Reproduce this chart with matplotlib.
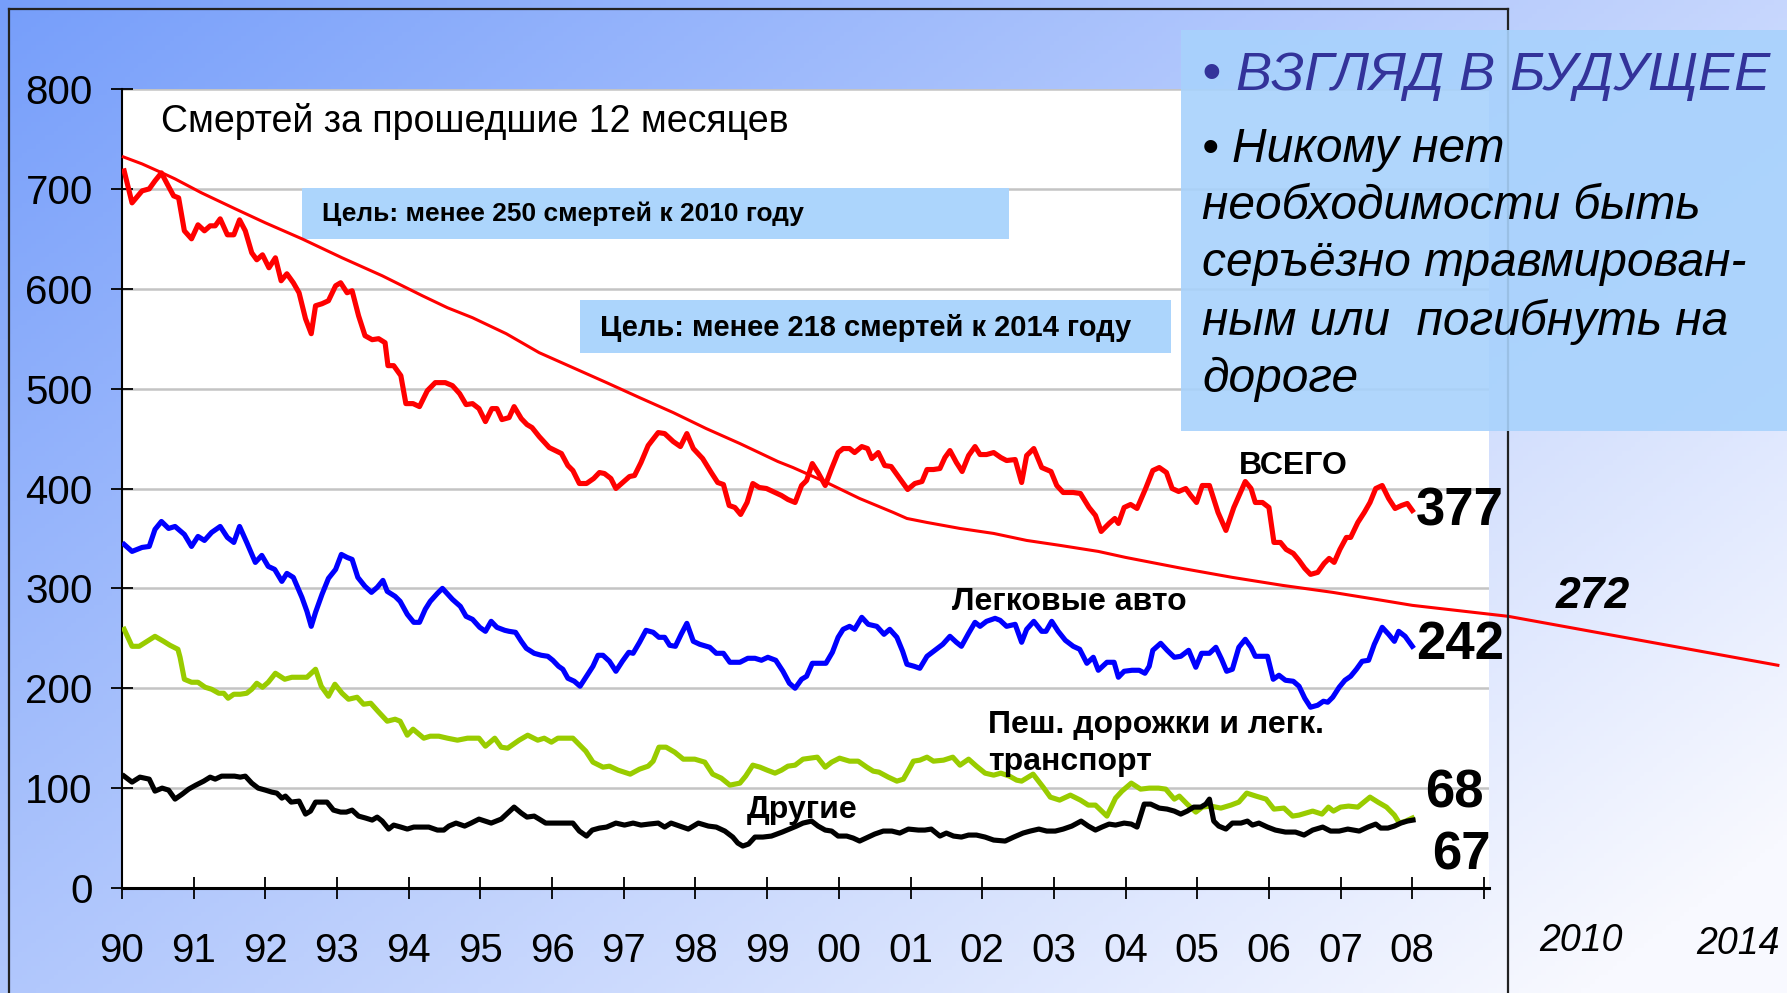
import numpy as np
import matplotlib.pyplot as plt
from matplotlib.patches import Rectangle
from matplotlib.lines import Line2D

plt.rcParams['font.family'] = ['Liberation Sans', 'DejaVu Sans']

# --- data (deaths over the past 12 months) ---
total_years = [1990.03, 1990.14, 1990.28, 1990.38, 1990.46, 1990.55, 1990.63, 1990.72, 1990.79, 1990.87,
               1990.97, 1991.06, 1991.15, 1991.23, 1991.30, 1991.37, 1991.47, 1991.56, 1991.64, 1991.72,
               1991.81, 1991.88, 1991.96, 1992.05, 1992.14, 1992.22, 1992.30, 1992.39, 1992.47, 1992.56,
               1992.64, 1992.70, 1992.79, 1992.88, 1992.98, 1993.05, 1993.14, 1993.21, 1993.30, 1993.39,
               1993.49, 1993.58, 1993.67, 1993.71, 1993.79, 1993.89, 1993.96, 1994.06, 1994.15, 1994.26,
               1994.37, 1994.51, 1994.61, 1994.71, 1994.80, 1994.89, 1994.98, 1995.07, 1995.16, 1995.23,
               1995.30, 1995.40, 1995.47, 1995.57, 1995.65, 1995.72, 1995.82, 1995.96, 1996.13, 1996.22,
               1996.29, 1996.38, 1996.48, 1996.58, 1996.66, 1996.73, 1996.82, 1996.89, 1997.00, 1997.08,
               1997.15, 1997.24, 1997.34, 1997.48, 1997.57, 1997.69, 1997.79, 1997.88, 1997.97, 1998.10,
               1998.22, 1998.31, 1998.39, 1998.47, 1998.55, 1998.63, 1998.72, 1998.80, 1998.89, 1998.99,
               1999.11, 1999.20, 1999.29, 1999.39, 1999.48, 1999.55, 1999.63, 1999.71, 1999.81, 1999.90,
               1999.99, 2000.06, 2000.15, 2000.22, 2000.32, 2000.40, 2000.46, 2000.55, 2000.64, 2000.73,
               2000.85, 2000.96, 2001.06, 2001.16, 2001.23, 2001.32, 2001.41, 2001.48, 2001.55, 2001.64,
               2001.72, 2001.81, 2001.90, 2001.97, 2002.06, 2002.16, 2002.26, 2002.34, 2002.46, 2002.55,
               2002.62, 2002.72, 2002.83, 2002.96, 2003.04, 2003.13, 2003.27, 2003.37, 2003.49, 2003.58,
               2003.66, 2003.77, 2003.85, 2003.90, 2003.98, 2004.07, 2004.16, 2004.28, 2004.38, 2004.47,
               2004.57, 2004.65, 2004.74, 2004.84, 2004.91, 2004.99, 2005.07, 2005.17, 2005.29, 2005.40,
               2005.51, 2005.67, 2005.75, 2005.81, 2005.91, 2006.00, 2006.07, 2006.16, 2006.24, 2006.34,
               2006.42, 2006.50, 2006.58, 2006.68, 2006.77, 2006.84, 2006.91, 2006.99, 2007.08, 2007.14,
               2007.24, 2007.33, 2007.41, 2007.49, 2007.58, 2007.67, 2007.76, 2007.85, 2007.93, 2008.00]
total_vals = [718, 686, 698, 700, 708, 716, 705, 693, 691, 658,
              650, 664, 658, 663, 663, 670, 654, 654, 669, 658,
              636, 629, 634, 621, 631, 608, 615, 606, 596, 570,
              555, 583, 585, 588, 603, 606, 596, 598, 573, 553,
              549, 550, 546, 523, 523, 513, 485, 485, 482, 498,
              506, 506, 503, 495, 484, 485, 480, 467, 480, 480,
              469, 471, 482, 470, 464, 461, 452, 441, 435, 423,
              418, 405, 405, 410, 416, 415, 410, 400, 407, 412,
              413, 426, 443, 456, 455, 447, 442, 455, 440, 430,
              416, 406, 404, 383, 381, 374, 386, 405, 401, 400,
              396, 393, 389, 386, 403, 408, 425, 416, 403, 420,
              436, 440, 440, 436, 442, 440, 430, 436, 423, 422,
              410, 399, 405, 407, 419, 419, 420, 431, 438, 426,
              417, 433, 442, 434, 434, 436, 431, 428, 429, 406,
              433, 440, 421, 417, 403, 396, 396, 395, 381, 373,
              357, 365, 370, 365, 381, 384, 380, 400, 418, 421,
              416, 400, 397, 400, 393, 386, 403, 403, 376, 358,
              381, 407, 400, 386, 386, 381, 346, 346, 339, 335,
              328, 320, 314, 316, 325, 330, 326, 339, 351, 351,
              366, 376, 386, 400, 403, 390, 380, 383, 385, 378]

target_years = [1990.02, 1990.28, 1990.56, 1990.74, 1991.11, 1991.58, 1992.00, 1992.51, 1993.07, 1993.63,
                1994.19, 1994.54, 1994.89, 1995.36, 1995.82, 1996.29, 1996.76, 1997.22, 1997.69, 1998.15,
                1998.62, 1999.15, 1999.36, 1999.83, 2000.29, 2000.76, 2000.95, 2001.23, 2001.69, 2002.16,
                2002.62, 2003.09, 2003.62, 2004.00, 2004.79, 2005.49, 2006.19, 2006.89, 2007.58, 2008.00,
                2009.34, 2013.10]
target_vals = [732, 725, 716, 710, 696, 680, 666, 650, 631, 613,
               593, 581, 571, 555, 536, 521, 506, 491, 476, 460,
               445, 427, 421, 406, 390, 376, 370, 366, 360, 355,
               348, 343, 337, 331, 320, 311, 303, 296, 288, 283,
               272, 223]

cars_years = [1990.03, 1990.14, 1990.28, 1990.38, 1990.46, 1990.55, 1990.65, 1990.74, 1990.87, 1990.97,
              1991.06, 1991.15, 1991.25, 1991.37, 1991.47, 1991.56, 1991.64, 1991.74, 1991.86, 1991.95,
              1992.04, 1992.13, 1992.23, 1992.30, 1992.39, 1992.51, 1992.58, 1992.64, 1992.70, 1992.79,
              1992.88, 1992.98, 1993.06, 1993.14, 1993.21, 1993.29, 1993.39, 1993.48, 1993.56, 1993.64,
              1993.70, 1993.81, 1993.88, 1993.98, 1994.07, 1994.15, 1994.23, 1994.30, 1994.40, 1994.47,
              1994.61, 1994.72, 1994.80, 1994.89, 1994.99, 1995.07, 1995.15, 1995.23, 1995.34, 1995.40,
              1995.49, 1995.57, 1995.64, 1995.75, 1995.85, 1995.94, 1996.01, 1996.09, 1996.15, 1996.22,
              1996.31, 1996.39, 1996.48, 1996.57, 1996.64, 1996.71, 1996.80, 1996.89, 1996.98, 1997.07,
              1997.13, 1997.22, 1997.31, 1997.41, 1997.49, 1997.57, 1997.64, 1997.72, 1997.80, 1997.88,
              1997.97, 1998.06, 1998.20, 1998.29, 1998.39, 1998.48, 1998.62, 1998.73, 1998.83, 1998.92,
              1999.01, 1999.12, 1999.22, 1999.31, 1999.39, 1999.48, 1999.55, 1999.63, 1999.74, 1999.82,
              1999.91, 1999.99, 2000.06, 2000.15, 2000.22, 2000.32, 2000.41, 2000.53, 2000.63, 2000.71,
              2000.81, 2000.89, 2000.95, 2001.05, 2001.13, 2001.23, 2001.34, 2001.45, 2001.55, 2001.64,
              2001.71, 2001.81, 2001.90, 2001.97, 2002.06, 2002.18, 2002.25, 2002.34, 2002.46, 2002.55,
              2002.62, 2002.72, 2002.83, 2002.89, 2002.97, 2003.06, 2003.16, 2003.27, 2003.36, 2003.46,
              2003.55, 2003.62, 2003.74, 2003.84, 2003.90, 2003.98, 2004.09, 2004.19, 2004.27, 2004.33,
              2004.38, 2004.49, 2004.58, 2004.68, 2004.77, 2004.88, 2004.98, 2005.06, 2005.17, 2005.26,
              2005.34, 2005.41, 2005.49, 2005.58, 2005.67, 2005.75, 2005.81, 2005.91, 2005.98, 2006.06,
              2006.14, 2006.23, 2006.34, 2006.42, 2006.50, 2006.58, 2006.68, 2006.76, 2006.82, 2006.89,
              2006.98, 2007.06, 2007.14, 2007.22, 2007.30, 2007.39, 2007.47, 2007.58, 2007.67, 2007.75,
              2007.81, 2007.90, 2008.00]
cars_vals = [344, 337, 341, 342, 359, 367, 360, 362, 354, 342,
             352, 348, 356, 362, 351, 346, 362, 346, 326, 333,
             322, 319, 307, 315, 311, 291, 277, 262, 276, 294,
             310, 319, 334, 331, 329, 311, 302, 296, 301, 308,
             297, 292, 287, 274, 266, 266, 279, 287, 295, 300,
             289, 282, 272, 269, 261, 257, 267, 261, 258, 257,
             256, 247, 240, 235, 233, 232, 228, 222, 219, 210,
             207, 202, 212, 222, 233, 233, 227, 217, 227, 236,
             235, 246, 258, 256, 251, 251, 243, 242, 254, 265,
             247, 244, 241, 235, 235, 226, 226, 230, 230, 228,
             231, 228, 217, 205, 200, 209, 212, 225, 225, 225,
             236, 251, 259, 262, 259, 271, 264, 262, 254, 259,
             251, 237, 224, 222, 220, 232, 238, 244, 252, 246,
             242, 255, 266, 262, 267, 270, 268, 262, 264, 246,
             259, 267, 257, 257, 267, 257, 248, 242, 239, 225,
             231, 218, 226, 226, 211, 217, 218, 218, 215, 222,
             238, 245, 238, 231, 232, 238, 221, 235, 235, 241,
             229, 217, 219, 241, 249, 241, 232, 232, 232, 209,
             213, 208, 207, 202, 190, 181, 183, 187, 186, 191,
             201, 208, 212, 219, 227, 228, 244, 261, 254, 247,
             257, 252, 242]

peds_years = [1990.03, 1990.14, 1990.24, 1990.35, 1990.46, 1990.58, 1990.67, 1990.78, 1990.81, 1990.87,
              1990.97, 1991.06, 1991.16, 1991.25, 1991.35, 1991.42, 1991.48, 1991.56, 1991.65, 1991.74,
              1991.81, 1991.88, 1991.96, 1992.04, 1992.14, 1992.27, 1992.37, 1992.49, 1992.58, 1992.70,
              1992.78, 1992.88, 1992.97, 1993.07, 1993.16, 1993.28, 1993.37, 1993.47, 1993.57, 1993.70,
              1993.81, 1993.88, 1993.98, 1994.06, 1994.21, 1994.30, 1994.42, 1994.54, 1994.68, 1994.82,
              1994.98, 1995.07, 1995.20, 1995.29, 1995.38, 1995.54, 1995.66, 1995.80, 1995.89, 1995.99,
              1996.08, 1996.29, 1996.47, 1996.57, 1996.71, 1996.80, 1996.92, 1997.09, 1997.22, 1997.34,
              1997.41, 1997.49, 1997.59, 1997.71, 1997.83, 1997.99, 1998.13, 1998.24, 1998.36, 1998.48,
              1998.62, 1998.70, 1998.80, 1998.90, 1999.00, 1999.11, 1999.20, 1999.29, 1999.39, 1999.50,
              1999.60, 1999.70, 1999.81, 1999.90, 2000.01, 2000.15, 2000.27, 2000.39, 2000.48, 2000.56,
              2000.69, 2000.81, 2000.90, 2000.98, 2001.04, 2001.13, 2001.23, 2001.32, 2001.46, 2001.59,
              2001.69, 2001.81, 2001.92, 2002.04, 2002.16, 2002.26, 2002.38, 2002.48, 2002.55, 2002.71,
              2002.85, 2002.95, 2003.08, 2003.23, 2003.37, 2003.48, 2003.58, 2003.74, 2003.86, 2003.95,
              2004.08, 2004.21, 2004.33, 2004.46, 2004.56, 2004.68, 2004.75, 2004.86, 2004.98, 2005.07,
              2005.19, 2005.33, 2005.47, 2005.58, 2005.69, 2005.82, 2005.96, 2006.07, 2006.21, 2006.33,
              2006.42, 2006.61, 2006.74, 2006.83, 2006.90, 2007.00, 2007.11, 2007.24, 2007.41, 2007.52,
              2007.64, 2007.75, 2007.82, 2007.91, 2008.00]
peds_vals = [259, 242, 242, 247, 252, 247, 243, 239, 231, 209,
             206, 206, 201, 199, 195, 195, 190, 194, 194, 195,
             199, 205, 201, 206, 215, 209, 211, 211, 211, 219,
             202, 192, 204, 195, 189, 191, 184, 185, 177, 167,
             169, 167, 153, 159, 150, 152, 152, 150, 148, 150,
             150, 142, 150, 141, 140, 148, 153, 148, 150, 146,
             150, 150, 137, 126, 121, 122, 118, 114, 119, 122,
             127, 141, 141, 136, 129, 129, 126, 114, 110, 103,
             105, 112, 123, 121, 118, 115, 118, 122, 123, 129,
             130, 131, 121, 126, 130, 127, 127, 121, 117, 116,
             111, 107, 109, 119, 127, 128, 131, 127, 128, 131,
             123, 129, 122, 115, 113, 115, 112, 108, 107, 114,
             101, 91, 88, 93, 88, 83, 83, 72, 90, 97,
             105, 99, 100, 100, 99, 89, 92, 84, 76, 81,
             82, 80, 83, 86, 95, 92, 89, 79, 80, 72,
             73, 77, 74, 81, 77, 81, 82, 81, 91, 86,
             81, 73, 65, 67, 70]

other_years = [1990.03, 1990.14, 1990.25, 1990.38, 1990.46, 1990.56, 1990.65, 1990.74, 1990.84, 1990.93,
               1991.03, 1991.14, 1991.23, 1991.30, 1991.39, 1991.57, 1991.65, 1991.72, 1991.81, 1991.90,
               1992.00, 1992.09, 1992.16, 1992.23, 1992.28, 1992.36, 1992.47, 1992.56, 1992.63, 1992.70,
               1992.86, 1992.95, 1993.05, 1993.13, 1993.21, 1993.30, 1993.40, 1993.49, 1993.56, 1993.63,
               1993.72, 1993.79, 1993.89, 1993.98, 1994.07, 1994.28, 1994.40, 1994.49, 1994.56, 1994.66,
               1994.78, 1994.87, 1994.98, 1995.15, 1995.29, 1995.38, 1995.47, 1995.57, 1995.65, 1995.75,
               1995.82, 1995.91, 1996.10, 1996.29, 1996.38, 1996.48, 1996.56, 1996.66, 1996.76, 1996.89,
               1997.01, 1997.13, 1997.24, 1997.35, 1997.48, 1997.57, 1997.66, 1997.78, 1997.90, 1998.04,
               1998.18, 1998.29, 1998.41, 1998.52, 1998.59, 1998.66, 1998.74, 1998.83, 1998.94, 1999.06,
               1999.21, 1999.31, 1999.41, 1999.50, 1999.62, 1999.71, 1999.81, 1999.90, 1999.99, 2000.11,
               2000.20, 2000.29, 2000.41, 2000.50, 2000.62, 2000.74, 2000.85, 2000.97, 2001.11, 2001.20,
               2001.29, 2001.41, 2001.50, 2001.60, 2001.71, 2001.81, 2001.92, 2002.04, 2002.16, 2002.32,
               2002.44, 2002.57, 2002.67, 2002.79, 2002.90, 2003.02, 2003.13, 2003.25, 2003.38, 2003.48,
               2003.58, 2003.67, 2003.77, 2003.86, 2003.98, 2004.08, 2004.16, 2004.26, 2004.35, 2004.47,
               2004.58, 2004.68, 2004.77, 2004.86, 2004.95, 2005.05, 2005.12, 2005.17, 2005.23, 2005.30,
               2005.40, 2005.49, 2005.61, 2005.70, 2005.77, 2005.86, 2005.98, 2006.09, 2006.23, 2006.37,
               2006.49, 2006.61, 2006.75, 2006.86, 2006.98, 2007.10, 2007.26, 2007.38, 2007.49, 2007.56,
               2007.66, 2007.75, 2007.84, 2007.93, 2008.01]
other_vals = [112, 106, 111, 109, 97, 100, 98, 89, 94, 99,
              103, 107, 111, 109, 112, 112, 111, 112, 105, 100,
              98, 96, 95, 90, 92, 86, 87, 74, 77, 86,
              86, 78, 76, 76, 78, 72, 70, 68, 71, 67,
              59, 63, 61, 59, 61, 61, 58, 58, 62, 65,
              62, 65, 69, 65, 69, 75, 81, 75, 71, 72,
              69, 65, 65, 65, 57, 52, 58, 60, 61, 65,
              63, 65, 63, 64, 65, 61, 65, 62, 59, 65,
              62, 61, 57, 51, 45, 42, 44, 51, 51, 52,
              56, 59, 62, 65, 67, 62, 58, 57, 52, 52,
              50, 47, 51, 54, 57, 57, 55, 59, 58, 58,
              59, 52, 55, 52, 51, 53, 53, 51, 48, 47,
              51, 55, 57, 59, 57, 57, 59, 62, 67, 62,
              58, 61, 64, 63, 65, 64, 61, 84, 84, 80,
              79, 77, 74, 77, 81, 81, 84, 89, 67, 62,
              59, 65, 65, 67, 63, 65, 61, 58, 56, 56,
              53, 58, 61, 57, 57, 59, 57, 61, 64, 60,
              60, 62, 65, 67, 68]

year_ticks = list(range(1990, 2010))
year_labels = ["90", "91", "92", "93", "94", "95", "96", "97", "98", "99",
               "00", "01", "02", "03", "04", "05", "06", "07", "08", ""]

W, H = 1787, 993
fig = plt.figure(figsize=(W / 100, H / 100), dpi=100)


def fx(x):
    return x / W


def fy(y):
    return 1 - y / H


# background gradient
bg = fig.add_axes([0, 0, 1, 1], zorder=-10)
gx, gy = np.meshgrid(np.linspace(0, 1, 400), np.linspace(0, 1, 220))
t = np.clip(0.62 * gx + 0.45 * gy, 0, 1)
c0 = np.array([118, 158, 250]) / 255
c1 = np.array([248, 249, 255]) / 255
img = c0[None, None, :] * (1 - t[..., None]) + c1[None, None, :] * t[..., None]
bg.imshow(img, aspect='auto', extent=[0, 1, 0, 1], origin='upper')
bg.axis('off')

# outer frame
for xs, ys in [((9, 9), (9, 993)), ((9, 1508), (9, 9)), ((1508, 1508), (9, 993))]:
    fig.add_artist(Line2D([fx(xs[0]), fx(xs[1])], [fy(ys[0]), fy(ys[1])], color='#222222', lw=1.6))

ax = fig.add_axes([fx(122), fy(888), fx(1489) - fx(122), fy(89) - fy(888)])
ax.set_facecolor('white')
ax.set_xlim(1990, 2009.07)
ax.set_ylim(0, 800)

for v in range(100, 801, 100):
    ax.axhline(v, color='#c4c4c4', lw=1.8, zorder=1)

ax.plot(target_years, target_vals, color='#ff0000', lw=2.2, zorder=4, clip_on=False)
ax.plot(total_years, total_vals, color='#ff0000', lw=3.7, zorder=5, solid_joinstyle='round')
ax.plot(cars_years, cars_vals, color='#0000ff', lw=3.7, zorder=5, solid_joinstyle='round')
ax.plot(peds_years, peds_vals, color='#99cc00', lw=3.7, zorder=5, solid_joinstyle='round')
ax.plot(other_years, other_vals, color='#000000', lw=3.7, zorder=6, solid_joinstyle='round')

ax.set_xticks(year_ticks)
ax.set_xticklabels(year_labels)
ax.set_yticks(range(0, 801, 100))
ax.tick_params(axis='both', direction='inout', length=16, width=1.3, labelsize=29)
ax.tick_params(axis='x', pad=24)
ax.tick_params(axis='y', pad=13)
for s in ['top', 'right']:
    ax.spines[s].set_visible(False)
ax.spines['left'].set_linewidth(1.5)
ax.spines['bottom'].set_linewidth(2.2)

# goal boxes
ax.add_patch(Rectangle((1992.51, 650), 9.87, 51, facecolor='#acd5fc', edgecolor='none', zorder=2))
ax.add_patch(Rectangle((1996.39, 536), 8.25, 53, facecolor='#acd5fc', edgecolor='none', zorder=2))
fig.text(fx(322), fy(214), "Цель: менее 250 смертей к 2010 году", fontsize=19, fontweight='bold',
         va='center', ha='left')
fig.text(fx(600), fy(328), "Цель: менее 218 смертей к 2014 году", fontsize=21, fontweight='bold',
         va='center', ha='left')
fig.text(fx(161), fy(121), "Смертей за прошедшие 12 месяцев", fontsize=27, va='center', ha='left')

# series labels
fig.text(fx(1293), fy(466), "ВСЕГО", fontsize=23, fontweight='bold', ha='center', va='center')
fig.text(fx(1069), fy(602), "Легковые авто", fontsize=23, fontweight='bold', ha='center', va='center')
fig.text(fx(988), fy(725), "Пеш. дорожки и легк.", fontsize=23, fontweight='bold', ha='left', va='center')
fig.text(fx(988), fy(762), "транспорт", fontsize=23, fontweight='bold', ha='left', va='center')
fig.text(fx(802), fy(810), "Другие", fontsize=23, fontweight='bold', ha='center', va='center')

for txt, x, y in [("377", 1460, 512), ("242", 1460, 645), ("68", 1454, 794), ("67", 1461, 855)]:
    fig.text(fx(x), fy(y), txt, fontsize=38, fontweight='bold', ha='center', va='center')
fig.text(fx(1593), fy(597), "272", fontsize=32, fontweight='bold', style='italic', ha='center', va='center')
fig.text(fx(1581), fy(941), "2010", fontsize=27, style='italic', ha='center', va='center')
fig.text(fx(1738), fy(944), "2014", fontsize=27, style='italic', ha='center', va='center')

# big text box
fig.add_artist(Rectangle((fx(1181), fy(431)), fx(1787) - fx(1181), fy(30) - fy(431),
                         facecolor='#a8d2fc', edgecolor='none', alpha=0.9, zorder=20))
fig.text(fx(1202), fy(76), "• ВЗГЛЯД В БУДУЩЕЕ", fontsize=39, style='italic', color='#33339a',
         ha='left', va='center', zorder=21)
lines = ["• Никому нет", "необходимости быть", "серъёзно травмирован-", "ным или  погибнуть на", "дороге"]
for i, ln in enumerate(lines):
    fig.text(fx(1202), fy(149 + 57.5 * i), ln, fontsize=34.5, style='italic', color='black',
             ha='left', va='center', zorder=21)

fig.savefig('out.png', dpi=100)
